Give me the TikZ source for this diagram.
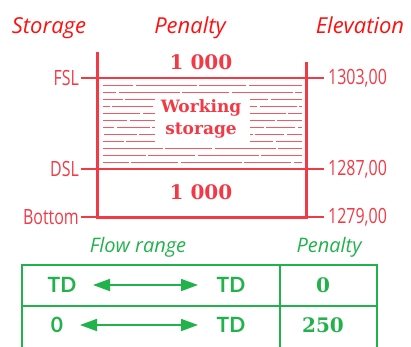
\documentclass[tikz,border=0pt]{standalone}
\usepackage{fontspec}
\usetikzlibrary{arrows.meta}
\newfontfamily\hdfont{Open Sans}
\newfontfamily\condfont[FakeStretch=0.76]{Open Sans}
\newfontfamily\tdfont{Lato}
\newfontfamily\bxfont{DejaVu Serif}
\definecolor{hred}{HTML}{FF1010}
\definecolor{lred}{HTML}{F23A46}
\definecolor{tgreen}{HTML}{22B24C}
\tikzset{
  header/.style={text=hred,font=\hdfont\itshape\fontsize{22}{24}\selectfont,anchor=base,inner sep=0},
  lvl/.style={text=lred,font=\condfont\fontsize{21}{22}\selectfont,inner sep=0},
  big/.style={text=lred,font=\bxfont\bfseries\fontsize{17}{19}\selectfont,inner sep=0},
  bignum/.style={text=lred,font=\bxfont\bfseries\fontsize{20}{22}\selectfont,inner sep=0},
  wall/.style={draw=lred,line width=3pt},
  lvlline/.style={draw=lred,line width=1.8pt},
  hatch/.style={draw=lred!85,line width=0.75pt},
  ghead/.style={text=tgreen,font=\hdfont\itshape\fontsize{20}{22}\selectfont,anchor=base,inner sep=0},
  tdtxt/.style={text=tgreen,font=\tdfont\bfseries\fontsize{21}{22}\selectfont,inner sep=0},
  numtxt/.style={text=tgreen,font=\bxfont\bfseries\fontsize{20}{22}\selectfont,inner sep=0},
  gline/.style={draw=tgreen,line width=2pt},
  garrow/.style={draw=tgreen,line width=1.8pt,{Triangle[length=17pt,width=12pt]}-{Triangle[length=17pt,width=12pt]}}
}
\begin{document}
\begin{tikzpicture}[x=1pt,y=-1pt]
\useasboundingbox (0,0) rectangle (411,346);
% headers
\node[header] (hs) at (49,33) {Storage};
\node[header] (hp) at (190,33) {Penalty};
\node[header] (he) at (360,33) {Elevation};
% hatch lines
\foreach \yy [count=\k] in {85,92,148,155,162}{
  \draw[hatch,dash pattern=on 47pt off 3pt on 61pt off 2pt,dash phase=\k*17pt] (103,\yy) -- (302,\yy);
}
\foreach \yy [count=\k] in {99,106,113,120,127,134,141}{
  \draw[hatch,dash pattern=on 33pt off 2pt on 41pt off 3pt,dash phase=\k*13pt] (103,\yy) -- (155,\yy);
  \draw[hatch,dash pattern=on 29pt off 3pt on 37pt off 2pt,dash phase=\k*11pt] (250,\yy) -- (302,\yy);
}
% working storage text
\node[big,fill=white,inner xsep=3pt] (work) at (201,108) {Working};
\node[big,fill=white,inner xsep=3pt] (stor) at (201,131) {storage};
% level labels
\node[lvl,anchor=east] (fsl) at (79,78) {FSL};
\node[lvl,anchor=east] (dsl) at (79,169) {DSL};
\node[lvl,anchor=east] (bot) at (79,217) {Bottom};
\node[lvl,anchor=west] (e1) at (328,78) {1303,00};
\node[lvl,anchor=west] (e2) at (328,169) {1287,00};
\node[lvl,anchor=west] (e3) at (328,217) {1279,00};
\draw[lvlline] (fsl.east) ++(2,0) -- ([xshift=-4pt]e1.west);
\draw[lvlline] (dsl.east) ++(2,0) -- ([xshift=-4pt]e2.west);
\draw[lvlline] (bot.east) ++(2,0) -- ([xshift=-4pt]e3.west);
% walls
\coordinate (lt) at (97,53);
\coordinate (lb) at (97,217);
\coordinate (rt) at (306,63);
\coordinate (rb) at (306,217);
\draw[wall,line cap=rect] (lt) -- (lb) -- (rb) -- (rt);
% penalties
\node[bignum] (p1) at (201,62) {1 000};
\node[bignum] (p2) at (201,192) {1 000};
% table
\node[ghead] (fr) at (138,252) {Flow range};
\node[ghead] (gp) at (329,252) {Penalty};
\coordinate (tl) at (22,265);
\coordinate (tr) at (377,265);
\coordinate (bl) at (22,350);
\coordinate (br) at (377,350);
\coordinate (ct) at (280,265);
\coordinate (cb) at (280,350);
\coordinate (ml) at (22,306);
\coordinate (mr) at (377,306);
\draw[gline] (bl) -- (tl) -- (tr) -- (br);
\draw[gline] (ct) -- (cb);
\draw[gline] (ml) -- (mr);
\node[tdtxt] (a1) at (62,285) {TD};
\node[tdtxt] (b1) at (231,285) {TD};
\node[numtxt] (c1) at (323,285) {0};
\node[tdtxt] (a2) at (57,325) {0};
\node[tdtxt] (b2) at (231,325) {TD};
\node[numtxt] (c2) at (323,325) {250};
\coordinate (s1) at (93,285);
\coordinate (t1) at (198,285);
\coordinate (s2) at (80,325);
\coordinate (t2) at (198,325);
\draw[garrow] (s1) -- (t1);
\draw[garrow] (s2) -- (t2);
\end{tikzpicture}
\end{document}
